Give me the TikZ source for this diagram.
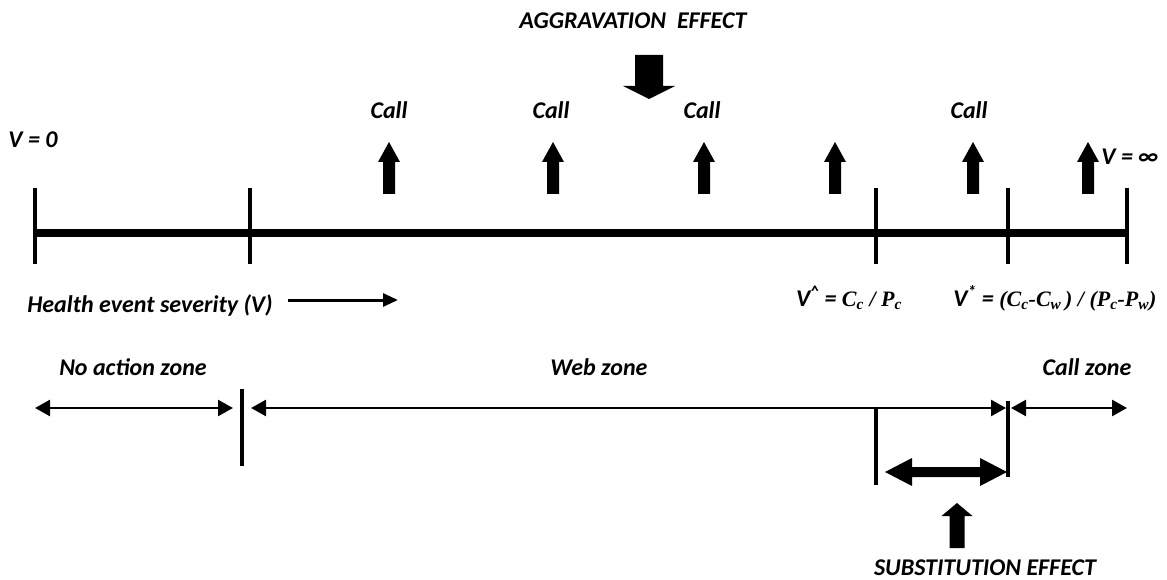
\documentclass[tikz,border=0pt]{standalone}
\usepackage{fontspec}
\setmainfont{Carlito}
\newfontfamily\tnr{Liberation Serif}
\usetikzlibrary{arrows.meta}
% x, tip y, head-base y, half shaft, half head, tail y
\newcommand\vblock[6]{\fill (#1,#2) -- (#1+#5,#3) -- (#1+#4,#3) -- (#1+#4,#6) -- (#1-#4,#6) -- (#1-#4,#3) -- (#1-#5,#3) -- cycle;}
\begin{document}
\begin{tikzpicture}[x=1pt,y=-1pt,
  font=\fontsize{24}{28}\selectfont\bfseries\itshape,
  lbl/.style={inner sep=0pt, anchor=center},
  axisline/.style={line width=7pt},
  tickline/.style={line width=3.5pt},
  zonearrow/.style={line width=2.5pt, {Triangle[length=15pt,width=16pt]}-{Triangle[length=15pt,width=16pt]}},
  sevarrow/.style={line width=3pt, -{Triangle[length=15pt,width=13pt]}}]
\useasboundingbox (0,0) rectangle (1167,580);

% axis coordinates
\coordinate (a0) at (35,233);
\coordinate (a1) at (250,233);
\coordinate (a2) at (876,233);
\coordinate (a3) at (1008,233);
\coordinate (a4) at (1127,233);
\draw[axisline] (a0) -- (a4);
\foreach \c in {a0,a1,a2,a3,a4}{
  \draw[tickline] ([yshift=45pt]\c) -- ([yshift=-31pt]\c);
}

% labels
\node[lbl] (agg) at (633,21) {AGGRAVATION\ \ EFFECT};
\vblock{649}{99}{86}{14}{26}{55}
\node[lbl] (v0) at (33,140) {V = 0};
\node[lbl] (vinf) at (1130,157) {V = ∞};
\node[lbl] (c1) at (389,110) {Call};
\node[lbl] (c2) at (551,110) {Call};
\node[lbl] (c3) at (702,110) {Call};
\node[lbl] (c4) at (969,110) {Call};
\vblock{389}{142}{162}{6}{11}{194}
\vblock{553}{142}{162}{6}{11}{194}
\vblock{704}{142}{162}{6}{11}{194}
\vblock{835}{142}{162}{6}{11}{194}
\vblock{973}{142}{162}{6}{11}{194}
\vblock{1088}{142}{162}{6}{11}{194}

\node[lbl] (sev) at (150,305) {Health event severity (V)};
\coordinate (sevstart) at (288,300);
\coordinate (sevend) at (398,300);
\draw[sevarrow] (sevstart) -- (sevend);

\node[lbl] (vhat) at (849,298) {V\textsuperscript{\char"5E} = {\tnr\fontsize{22}{26}\selectfont C\textsubscript{c} / P\textsubscript{c}}};
\node[lbl] (vstar) at (1055,298) {V\textsuperscript{*} = {\tnr\fontsize{22}{26}\selectfont (C\textsubscript{c}-C\textsubscript{w}\,) / (P\textsubscript{c}-P\textsubscript{w})}};

% zones
\node[lbl] (noz) at (133,367) {No action zone};
\node[lbl] (webz) at (599,367) {Web zone};
\node[lbl] (callz) at (1087,367) {Call zone};

\coordinate (z0) at (35,408);
\coordinate (z1) at (233,408);
\coordinate (zs) at (242,408);
\coordinate (z2) at (251,408);
\coordinate (z3) at (1006,408);
\coordinate (zt) at (1008,408);
\coordinate (z4) at (1011,408);
\coordinate (z5) at (1127,408);
\draw[zonearrow] (z0) -- (z1);
\draw[zonearrow] (z2) -- (z3);
\draw[zonearrow] (z4) -- (z5);
\draw[tickline] ([yshift=19pt]zs) -- ([yshift=-58pt]zs);
\draw[tickline] ([yshift=7pt]zt) -- ([yshift=-69pt]zt);
\coordinate (zv) at (876,408);
\draw[tickline] (zv) -- ([yshift=-77pt]zv);

% substitution double arrow
\fill (885,472) -- (912,458) -- (912,467) -- (980,467) -- (980,458) -- (1007,472)
  -- (980,486) -- (980,477) -- (912,477) -- (912,486) -- cycle;
\vblock{957}{503}{516}{7.5}{15.5}{548}
\node[lbl] (sub) at (985,568) {SUBSTITUTION EFFECT};
\end{tikzpicture}
\end{document}
